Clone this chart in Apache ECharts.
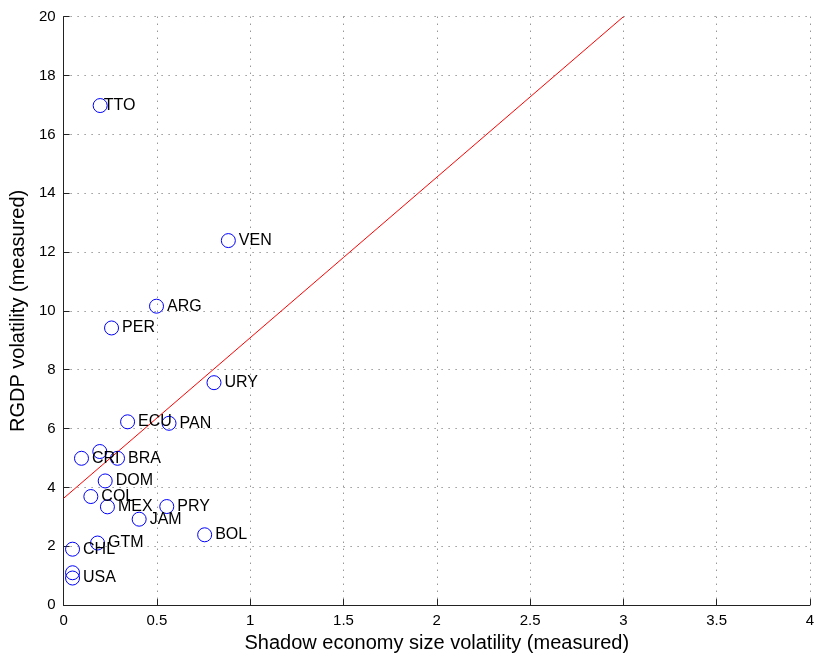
<!DOCTYPE html>
<html>
<head>
<meta charset="utf-8">
<title>RGDP vs shadow economy volatility</title>
<script src="https://cdn.jsdelivr.net/npm/echarts@6/dist/echarts.min.js"></script>
<style>
  html, body { margin: 0; padding: 0; background: #fff; }
  #chart { width: 818px; height: 658px; }
</style>
</head>
<body>
<div id="chart"></div>
<script>
// Country codes (empty string = point drawn without a label)
const countries = ['TTO', 'VEN', 'ARG', 'PER', 'URY', 'ECU', 'PAN', 'CRI', '', 'BRA',
                   'DOM', 'COL', 'MEX', 'PRY', 'JAM', 'BOL', 'GTM', 'CHL', '', 'USA'];
// Shadow economy size volatility (measured)
const shadowVol = [0.196, 0.883, 0.498, 0.257, 0.806, 0.343, 0.565, 0.096, 0.194, 0.289,
                   0.223, 0.146, 0.235, 0.553, 0.405, 0.756, 0.182, 0.048, 0.048, 0.048];
// RGDP volatility (measured)
const rgdpVol = [16.98, 12.39, 10.16, 9.42, 7.56, 6.23, 6.18, 4.99, 5.22, 4.99,
                 4.22, 3.69, 3.34, 3.35, 2.92, 2.39, 2.11, 1.90, 1.10, 0.92];
// Fitted line end points
const fitX = [0, 3];
const fitY = [3.63, 20];

const FONT = "'Liberation Sans', Helvetica, Arial, sans-serif";

const points = countries.map((c, i) => {
  const item = { name: c, value: [shadowVol[i], rgdpVol[i]] };
  if (c === 'TTO') item.label = { distance: -4 };
  return item;
});

const chart = echarts.init(document.getElementById('chart'), null, { renderer: 'canvas' });

const gridLine = { show: true, lineStyle: { color: '#666', width: 1, type: [1, 6] } };
const axisLine = { show: true, lineStyle: { color: '#222', width: 1 } };

chart.setOption({
  animation: false,
  backgroundColor: '#fff',
  textStyle: { fontFamily: FONT },
  grid: { left: 62.7, right: 8, top: 16.7, bottom: 52, containLabel: false },
  xAxis: {
    type: 'value', min: 0, max: 4, interval: 0.5,
    name: 'Shadow economy size volatility (measured)',
    nameLocation: 'middle', nameGap: 24,
    nameTextStyle: { fontFamily: FONT, fontSize: 20, color: '#000' },
    axisLine: axisLine,
    axisTick: { show: true, inside: true, length: 6, lineStyle: { color: '#222' } },
    axisLabel: { fontFamily: FONT, fontSize: 15, color: '#000', margin: 8 },
    splitLine: gridLine
  },
  yAxis: {
    type: 'value', min: 0, max: 20, interval: 2,
    name: 'RGDP volatility (measured)',
    nameLocation: 'middle', nameGap: 35,
    nameTextStyle: { fontFamily: FONT, fontSize: 20, color: '#000' },
    axisLine: axisLine,
    axisTick: { show: true, inside: true, length: 6, lineStyle: { color: '#222' } },
    axisLabel: { fontFamily: FONT, fontSize: 15, color: '#000', margin: 8 },
    splitLine: gridLine
  },
  series: [
    {
      type: 'line',
      data: fitX.map((x, i) => [x, fitY[i]]),
      showSymbol: false,
      lineStyle: { color: '#ff0000', width: 1 },
      z: 1
    },
    {
      type: 'scatter',
      data: points,
      symbol: 'circle',
      symbolSize: 14,
      itemStyle: { color: 'rgba(0,0,0,0)', borderColor: '#0000ff', borderWidth: 1, opacity: 1 },
      label: {
        show: true, position: 'right', distance: 3,
        formatter: '{b}',
        fontFamily: FONT, fontSize: 16, color: '#000'
      },
      z: 2
    }
  ]
});
</script>
</body>
</html>
